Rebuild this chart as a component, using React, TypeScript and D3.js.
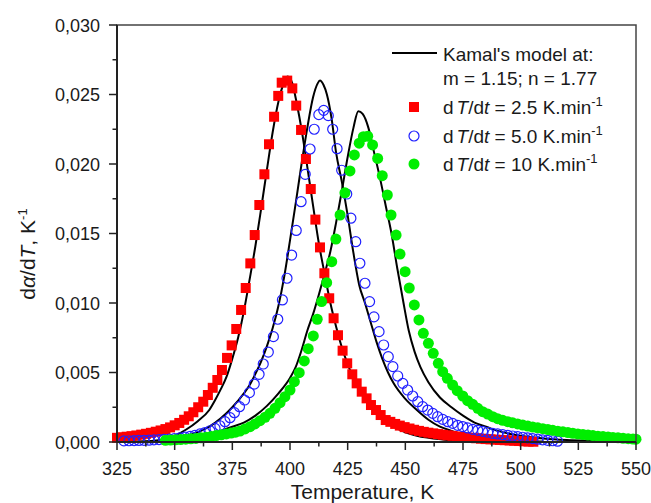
import React from "react";
import * as d3 from "d3";

// ---- data (Temperature K, dα/dT K^-1) ----
const xTicks = [325, 350, 375, 400, 425, 450, 475, 500, 525, 550];
const yTicks = [0, 0.005, 0.01, 0.015, 0.02, 0.025, 0.03];

const rate25: [number, number][] = [
  [325.0, 0.0003], [327.1, 0.00034], [329.2, 0.00038], [331.3, 0.00042], [333.4, 0.00047],
  [335.5, 0.00053], [337.6, 0.00059], [339.7, 0.00066], [341.8, 0.00074], [343.9, 0.00083],
  [346.0, 0.00093], [348.0, 0.00105], [350.0, 0.0012], [352.0, 0.00137], [354.1, 0.0016],
  [356.1, 0.00185], [358.1, 0.00214], [360.2, 0.0025], [362.4, 0.0029], [364.4, 0.00338],
  [366.5, 0.0039], [368.5, 0.00446], [370.5, 0.00518], [372.7, 0.00605], [374.7, 0.00695],
  [376.7, 0.00813], [378.8, 0.0095], [380.8, 0.01108], [382.8, 0.01285], [384.7, 0.01489],
  [386.7, 0.01705], [388.9, 0.01926], [390.9, 0.02142], [393.1, 0.0234], [394.9, 0.0249],
  [396.4, 0.02585], [398.8, 0.026], [401.0, 0.02544], [402.7, 0.0242], [404.8, 0.02245],
  [406.9, 0.02036], [409.0, 0.0182], [411.0, 0.016], [413.0, 0.014], [414.9, 0.01214],
  [417.0, 0.01034], [418.9, 0.0089], [420.8, 0.00768], [422.8, 0.00657], [424.8, 0.00566],
  [427.0, 0.00487], [428.9, 0.00422], [431.1, 0.00362], [433.2, 0.00314], [435.1, 0.00266],
  [437.3, 0.0023], [439.3, 0.00194], [441.5, 0.00158], [443.5, 0.00145], [445.6, 0.0013],
  [447.6, 0.00118], [449.7, 0.00107], [451.8, 0.00097], [453.8, 0.00088], [455.9, 0.0008],
  [458.0, 0.00073], [460.0, 0.00067], [462.1, 0.00062], [464.2, 0.00057], [466.2, 0.00052],
  [468.3, 0.00048], [470.4, 0.00044], [472.4, 0.0004], [474.5, 0.00036], [476.6, 0.00033],
  [478.6, 0.0003], [480.7, 0.00027], [482.8, 0.00024], [484.8, 0.00021], [486.9, 0.00019],
  [489.0, 0.00017], [491.0, 0.00015], [493.1, 0.00013], [495.2, 0.00011], [497.2, 0.00009],
  [499.3, 0.00007], [501.4, 0.00005], [503.4, 0.00003], [505.5, 0.00002],
];

const rate50: [number, number][] = [
  [328.0, 0.00008], [330.2, 0.00009], [332.4, 0.0001], [334.5, 0.00011], [336.7, 0.00012],
  [338.9, 0.00013], [341.0, 0.00015], [343.2, 0.00017], [345.4, 0.00019], [347.6, 0.00021],
  [349.9, 0.00025], [352.3, 0.0003], [354.5, 0.00035], [356.7, 0.00041], [358.8, 0.00048],
  [361.0, 0.00058], [363.1, 0.00068], [365.3, 0.00081], [367.5, 0.00098], [369.6, 0.00117],
  [371.8, 0.00146], [374.0, 0.00175], [375.9, 0.00211], [378.1, 0.00254], [380.3, 0.00302],
  [382.4, 0.00355], [384.5, 0.00417], [386.6, 0.00487], [388.4, 0.00561], [390.6, 0.00647],
  [392.8, 0.00758], [394.7, 0.00883], [396.7, 0.01022], [398.7, 0.01178], [400.7, 0.01345],
  [402.7, 0.01522], [404.8, 0.01729], [406.6, 0.01926], [408.7, 0.02108], [410.5, 0.0225],
  [412.5, 0.02355], [414.6, 0.02386], [416.6, 0.02348], [418.5, 0.0225], [420.4, 0.0211],
  [422.4, 0.01955], [424.6, 0.01784], [426.4, 0.0161], [428.5, 0.01441], [430.3, 0.01286],
  [432.5, 0.01142], [434.5, 0.0101], [436.4, 0.009], [438.6, 0.00794], [440.6, 0.00698],
  [442.6, 0.00614], [444.6, 0.00542], [446.7, 0.00475], [448.9, 0.00422], [451.0, 0.00374],
  [453.2, 0.00331], [455.4, 0.0029], [457.5, 0.00254], [459.7, 0.0023], [461.9, 0.00206],
  [464.0, 0.00182], [466.2, 0.00163], [468.4, 0.00146], [470.5, 0.00134], [472.7, 0.0012],
  [474.9, 0.00111], [477.0, 0.00101], [479.2, 0.00091], [481.4, 0.00084], [483.5, 0.00077],
  [485.7, 0.0007], [487.9, 0.00062], [490.0, 0.00058], [492.2, 0.00053], [494.4, 0.00048],
  [496.5, 0.00043], [498.7, 0.00038], [500.9, 0.00034], [503.0, 0.0003], [505.2, 0.00025],
  [507.4, 0.0002], [509.5, 0.00016], [511.7, 0.00012], [513.9, 0.00009], [516.0, 0.00006],
];

const rate10: [number, number][] = [
  [346.0, 0.00012], [348.2, 0.00014], [350.4, 0.00016], [352.6, 0.00018], [354.8, 0.0002],
  [357.0, 0.00023], [359.2, 0.00026], [361.4, 0.0003], [363.6, 0.00035], [365.8, 0.0004],
  [368.0, 0.00046], [370.2, 0.00052], [372.4, 0.00058], [374.5, 0.00064], [376.4, 0.00071],
  [378.3, 0.00079], [380.5, 0.00094], [382.7, 0.0011], [384.8, 0.0013], [387.0, 0.00153],
  [389.2, 0.00178], [391.3, 0.00206], [393.5, 0.00242], [395.7, 0.00283], [397.8, 0.00326],
  [400.0, 0.00374], [401.9, 0.00434], [404.0, 0.00499], [406.2, 0.00583], [407.9, 0.00671],
  [410.1, 0.00763], [411.8, 0.00883], [413.7, 0.0101], [415.9, 0.01146], [418.1, 0.01297],
  [419.9, 0.0146], [421.7, 0.01633], [423.8, 0.01793], [426.0, 0.0195], [427.9, 0.02065],
  [430.0, 0.0215], [431.8, 0.02196], [433.7, 0.022], [435.8, 0.02137], [438.0, 0.0204],
  [440.0, 0.01916], [442.2, 0.01777], [443.8, 0.01633], [446.0, 0.01489], [447.7, 0.01352],
  [449.9, 0.01225], [451.7, 0.01108], [453.9, 0.00986], [455.9, 0.00878], [457.8, 0.00782],
  [460.0, 0.0071], [462.1, 0.00638], [464.3, 0.00566], [466.2, 0.00506], [468.2, 0.00458],
  [470.5, 0.0041], [472.5, 0.00369], [474.9, 0.00331], [477.0, 0.00297], [479.2, 0.00271],
  [481.4, 0.00242], [483.5, 0.00218], [485.7, 0.00201], [487.9, 0.00182], [490.0, 0.00168],
  [492.2, 0.00156], [494.4, 0.00146], [496.5, 0.00138], [498.7, 0.0013], [500.9, 0.00122],
  [503.1, 0.00115], [505.2, 0.00108], [507.4, 0.00102], [509.6, 0.00096], [511.8, 0.0009],
  [513.9, 0.00084], [516.1, 0.00078], [518.3, 0.00073], [520.5, 0.00068], [522.6, 0.00063],
  [524.8, 0.00058], [527.0, 0.00054], [529.2, 0.0005], [531.3, 0.00046], [533.5, 0.00042],
  [535.7, 0.00039], [537.9, 0.00036], [540.0, 0.00033], [542.2, 0.0003], [544.4, 0.00027],
  [546.6, 0.00024], [548.7, 0.00021], [550.0, 0.0002],
];

// Kamal's model curves (m = 1.15; n = 1.77)
const model25: [number, number][] = [
  [325, 0.00001], [330, 0.00002], [335, 0.00004], [340, 0.00008], [345, 0.00018],
  [350, 0.00045], [355, 0.0009], [360, 0.0015], [365, 0.0023], [367.5, 0.003],
  [370, 0.0038], [372.5, 0.0047], [375, 0.006], [377.5, 0.0075], [380, 0.0094],
  [382.5, 0.0117], [385, 0.0141], [387.5, 0.0168], [390, 0.0196], [392.5, 0.0223],
  [395, 0.0245], [397.5, 0.0259], [399, 0.0263], [401, 0.0258], [403, 0.0243],
  [405, 0.0225], [407.5, 0.0198], [410, 0.017], [412.5, 0.0143], [415, 0.0121],
  [417.5, 0.01], [420, 0.0083], [422.5, 0.0068], [425, 0.0056], [427.5, 0.0046],
  [430, 0.0038], [432.5, 0.0031], [435, 0.0026], [437.5, 0.0021], [440, 0.0017],
  [445, 0.0011], [450, 0.0007], [455, 0.00045], [460, 0.0003], [470, 0.00012],
  [480, 0.00005], [490, 0.00002],
];

const model50: [number, number][] = [
  [330, 0.00001], [340, 0.00005], [345, 0.0001], [350, 0.0002], [355, 0.00042],
  [360, 0.0007], [365, 0.0011], [370, 0.0017], [375, 0.0025], [380, 0.0035],
  [382.5, 0.0041], [385, 0.0049], [387.5, 0.0058], [390, 0.0069], [392.5, 0.0082],
  [395, 0.0098], [397.5, 0.0119], [400, 0.0145], [402.5, 0.0172], [405, 0.02],
  [407.5, 0.0226], [410, 0.0248], [412, 0.0258], [413, 0.026], [414.5, 0.0257],
  [416, 0.025], [418, 0.0233], [420, 0.0208], [422.5, 0.0187], [425, 0.0163],
  [427.5, 0.0136], [430, 0.0113], [432.5, 0.01], [435, 0.0086], [437.5, 0.0072],
  [440, 0.006], [442.5, 0.005], [445, 0.0042], [450, 0.0031], [455, 0.0023],
  [460, 0.0016], [465, 0.0011], [470, 0.0008], [475, 0.00055], [480, 0.00038],
  [490, 0.00018], [500, 0.00008], [510, 0.00003],
];

const model10: [number, number][] = [
  [340, 0.00002], [350, 0.0001], [355, 0.0002], [360, 0.0003], [365, 0.0005],
  [370, 0.0008], [375, 0.0011], [380, 0.0014], [385, 0.0019], [390, 0.0026],
  [395, 0.0035], [400, 0.0046], [402.5, 0.0054], [405, 0.0066], [407.5, 0.008],
  [410, 0.0092], [412.5, 0.0106], [415, 0.0121], [417.5, 0.0137], [420, 0.0158],
  [422.5, 0.0181], [425, 0.0205], [427.5, 0.0226], [429.6, 0.0238], [431.5, 0.0236],
  [434, 0.0226], [436.5, 0.0208], [439, 0.019], [441.5, 0.017], [444, 0.015],
  [446.5, 0.0125], [449, 0.0102], [451.5, 0.008], [454, 0.0065], [456.5, 0.0054],
  [460, 0.0043], [465, 0.0032], [470, 0.0025], [475, 0.0019], [480, 0.0014],
  [485, 0.0011], [490, 0.0008], [495, 0.0006], [500, 0.00045], [510, 0.00025],
  [520, 0.00014], [530, 0.00008], [540, 0.00004], [550, 0.00002],
];

const legendRates = ["2.5", "5.0", "10"];

const W = 651;
const H = 503;
const FONT = "'Liberation Sans', Arial, Helvetica, sans-serif";

export default function App() {
  const m = { left: 117, right: 636, top: 25, bottom: 442 };
  const x = d3.scaleLinear().domain([325, 550]).range([m.left, m.right]);
  const y = d3.scaleLinear().domain([0, 0.03]).range([m.bottom, m.top]);

  const line = d3
    .line<[number, number]>()
    .x((d) => x(d[0]))
    .y((d) => y(d[1]))
    .curve(d3.curveMonotoneX);

  const xMinor = d3.range(325, 551, 12.5).filter((v) => !xTicks.includes(v));
  const yMinor = d3.range(0.0025, 0.03, 0.005);

  const red = "#ff0000";
  const blue = "#2020ff";
  const green = "#00ee00";
  const axisColor = "#222";
  const sq = 10;
  const rb = 5;
  const rg = 5.5;

  const fmt = (v: number) => v.toFixed(3).replace(".", ",");

  const lx = 414;
  const legendRows = [107, 136, 164];

  return (
    <svg
      width={W}
      height={H}
      style={{ position: "absolute", left: 0, top: 0, background: "#fff" }}
      fontFamily={FONT}
    >
      <rect x={0} y={0} width={W} height={H} fill="#fff" />

      {/* model curves */}
      {[model25, model50, model10].map((d, i) => (
        <path key={i} d={line(d) || ""} fill="none" stroke="#000" strokeWidth={2} />
      ))}

      {/* data */}
      {rate25.map((d, i) => (
        <rect key={"r" + i} x={x(d[0]) - sq / 2} y={y(d[1]) - sq / 2} width={sq} height={sq} fill={red} />
      ))}
      {rate50.map((d, i) => (
        <circle key={"b" + i} cx={x(d[0])} cy={y(d[1])} r={rb} fill="none" stroke={blue} strokeWidth={1.2} />
      ))}
      {rate10.map((d, i) => (
        <circle key={"g" + i} cx={x(d[0])} cy={y(d[1])} r={rg} fill={green} />
      ))}

      {/* frame */}
      <rect
        x={m.left}
        y={m.top}
        width={m.right - m.left}
        height={m.bottom - m.top}
        fill="none"
        stroke="#444"
        strokeWidth={1.5}
      />
      <line x1={m.left} x2={m.left} y1={m.top} y2={m.bottom} stroke={axisColor} strokeWidth={2} />
      <line x1={m.left} x2={m.right} y1={m.bottom} y2={m.bottom} stroke={axisColor} strokeWidth={2} />

      {/* x ticks */}
      {xTicks.map((t) => (
        <g key={"xt" + t}>
          <line x1={x(t)} x2={x(t)} y1={m.bottom} y2={m.bottom + 8} stroke={axisColor} strokeWidth={1.5} />
          <text x={x(t)} y={475} textAnchor="middle" fontSize={18} fill="#1a1a1a">
            {t}
          </text>
        </g>
      ))}
      {xMinor.map((t) => (
        <line key={"xm" + t} x1={x(t)} x2={x(t)} y1={m.bottom} y2={m.bottom + 4.5} stroke={axisColor} strokeWidth={1.5} />
      ))}

      {/* y ticks */}
      {yTicks.map((t) => (
        <g key={"yt" + t}>
          <line x1={m.left - 8} x2={m.left} y1={y(t)} y2={y(t)} stroke={axisColor} strokeWidth={1.5} />
          <text x={100} y={y(t) + 6.5} textAnchor="end" fontSize={18} fill="#1a1a1a">
            {fmt(t)}
          </text>
        </g>
      ))}
      {yMinor.map((t) => (
        <line key={"ym" + t} x1={m.left - 4.5} x2={m.left} y1={y(t)} y2={y(t)} stroke={axisColor} strokeWidth={1.5} />
      ))}

      {/* axis titles */}
      <text x={(m.left + m.right) / 2 - 14} y={499} textAnchor="middle" fontSize={21} fill="#1a1a1a">
        Temperature, K
      </text>
      <text
        transform={`translate(35, 254) rotate(-90)`}
        textAnchor="middle"
        fontSize={21}
        fill="#1a1a1a"
      >
        d<tspan fontStyle="italic">α</tspan>/d<tspan fontStyle="italic">T</tspan>, K
        <tspan fontSize={13} dy={-8}>-1</tspan>
      </text>

      {/* legend */}
      <line x1={392} x2={437} y1={53} y2={53} stroke="#000" strokeWidth={2} />
      <text x={443} y={60.5} fontSize={19} fill="#1a1a1a">
        Kamal's model at:
      </text>
      <text x={443} y={85} fontSize={19} fill="#1a1a1a">
        m = 1.15; n = 1.77
      </text>
      <rect x={lx - sq / 2} y={legendRows[0] - sq / 2} width={sq} height={sq} fill={red} />
      <circle cx={lx} cy={legendRows[1]} r={rb} fill="none" stroke={blue} strokeWidth={1.2} />
      <circle cx={lx} cy={legendRows[2]} r={rg} fill={green} />
      {legendRates.map((r, i) => (
        <text key={"lg" + r} x={443} y={legendRows[i] + 6.8} fontSize={19} fill="#1a1a1a">
          d<tspan dx={3} fontStyle="italic">T</tspan>/d<tspan fontStyle="italic">t</tspan> = {r} K.min
          <tspan fontSize={13} dy={-8}>-1</tspan>
        </text>
      ))}
    </svg>
  );
}
